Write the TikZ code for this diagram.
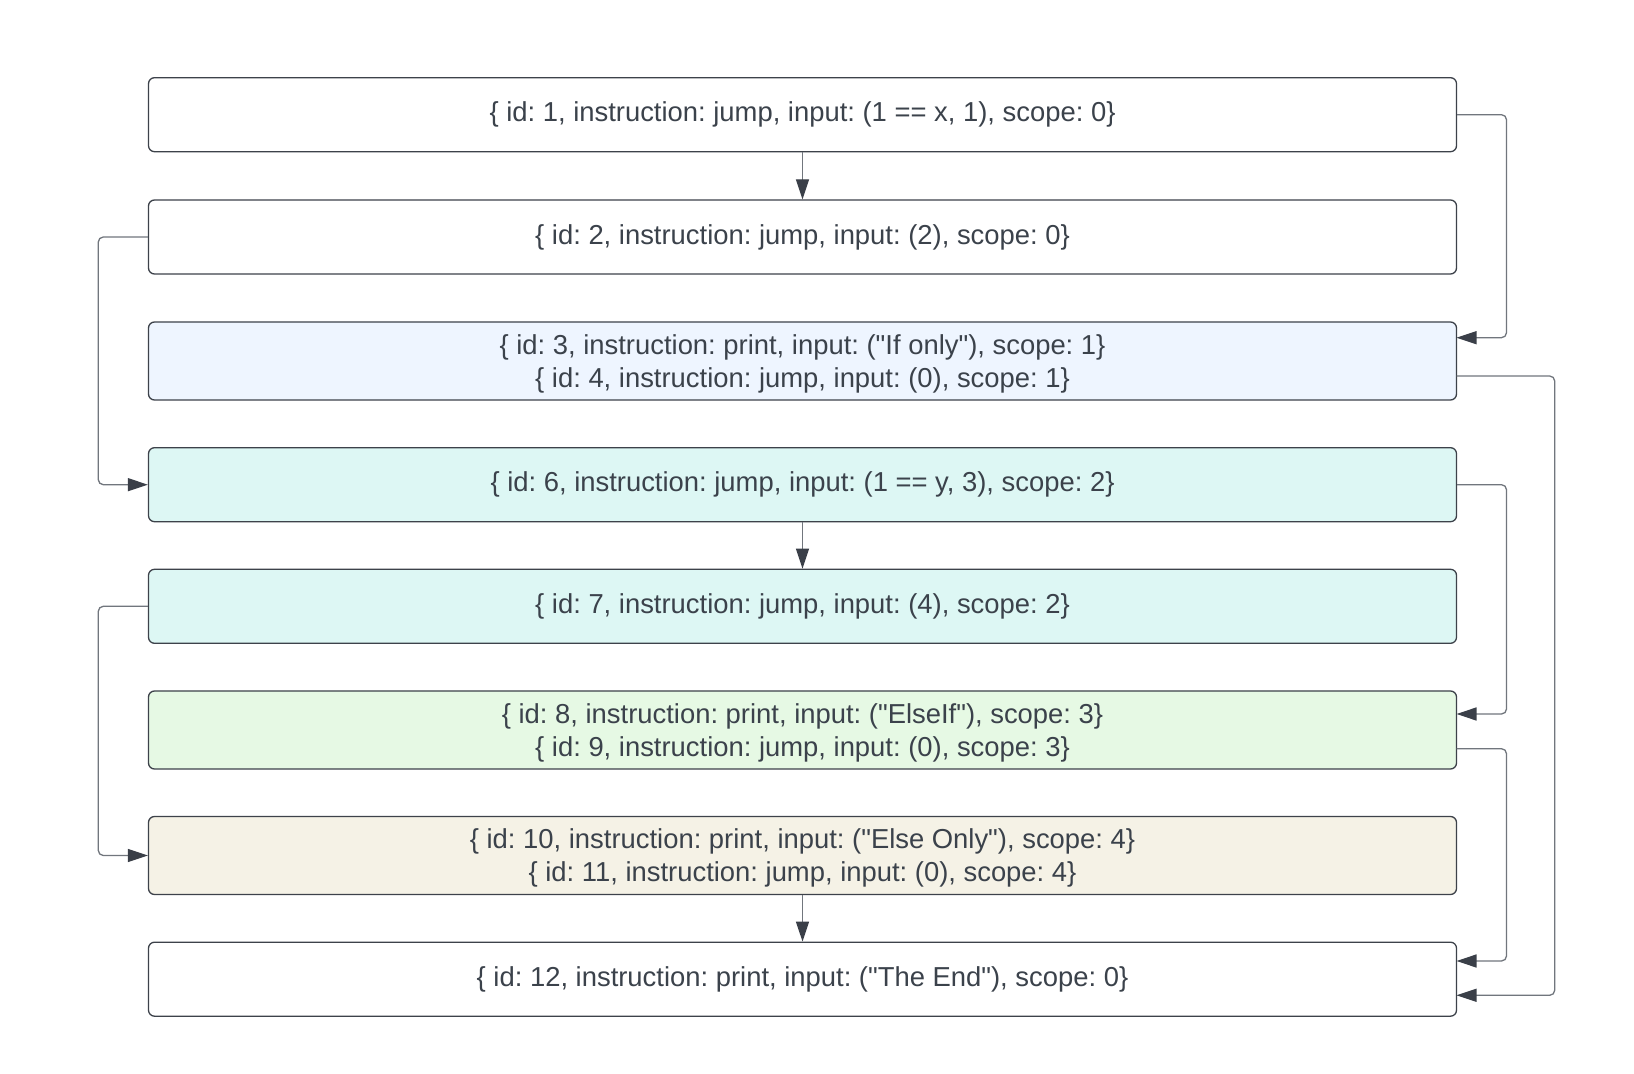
\documentclass[tikz,border=0pt]{standalone}
\usepackage{fontspec}
\setmainfont{Liberation Sans}[Ligatures=TeXOff]
\usetikzlibrary{arrows.meta,calc}
\definecolor{txt}{HTML}{3B424B}
\definecolor{bord}{HTML}{3D424A}
\definecolor{wire}{HTML}{71767D}
\definecolor{tipc}{HTML}{3A3F48}
\definecolor{fblue}{HTML}{EEF5FF}
\definecolor{fcyan}{HTML}{DDF7F4}
\definecolor{fgreen}{HTML}{E6F9E4}
\definecolor{fbeige}{HTML}{F5F2E6}
\newcommand{\dq}{"}
\newcommand{\toplift}{\rule{0pt}{12.6pt}}
\begin{document}
\frenchspacing
\begin{tikzpicture}[x=0.5pt,y=-0.5pt,
  blk/.style={draw=bord, line width=0.65pt, rounded corners=3pt, minimum width=654pt,
    inner sep=0pt, align=center, text=txt, font=\fontsize{13.7}{16.3}\selectfont\frenchspacing},
  blkone/.style={blk, minimum height=37pt},
  blktwo/.style={blk, minimum height=39pt},
  conn/.style={draw=wire, line width=0.65pt, rounded corners=2.5pt,
    -{Triangle[length=10pt,width=6.5pt,color=tipc]}},
]
\fill[white] (0,0) rectangle (1634,1074);
\useasboundingbox (0,0) rectangle (1634,1074);

\node[blkone, fill=white] (b1) at (802.5,114.7) {\{ id: 1, instruction: jump, input: (1 == x, 1), scope: 0\}};
\node[blkone, fill=white] (b2) at (802.5,237) {\{ id: 2, instruction: jump, input: (2), scope: 0\}};
\node[blktwo, fill=fblue] (b3) at (802.5,361) {\toplift\{ id: 3, instruction: print, input: (\dq If only\dq), scope: 1\}\\\{ id: 4, instruction: jump, input: (0), scope: 1\}};
\node[blkone, fill=fcyan] (b4) at (802.5,484.7) {\{ id: 6, instruction: jump, input: (1 == y, 3), scope: 2\}};
\node[blkone, fill=fcyan] (b5) at (802.5,606.3) {\{ id: 7, instruction: jump, input: (4), scope: 2\}};
\node[blktwo, fill=fgreen] (b6) at (802.5,730) {\toplift\{ id: 8, instruction: print, input: (\dq ElseIf\dq), scope: 3\}\\\{ id: 9, instruction: jump, input: (0), scope: 3\}};
\node[blktwo, fill=fbeige] (b7) at (802.5,855.5) {\toplift\{ id: 10, instruction: print, input: (\dq Else Only\dq), scope: 4\}\\\{ id: 11, instruction: jump, input: (0), scope: 4\}};
\node[blkone, fill=white] (b8) at (802.5,979.2) {\{ id: 12, instruction: print, input: (\dq The End\dq), scope: 0\}};

% routing columns
\coordinate (rin) at (1506.5,0);
\coordinate (rout) at (1554.7,0);
\coordinate (lcol) at (98.3,0);
% attachment points
\coordinate (b3in) at (1456.5,337.7);
\coordinate (b3out) at (1456.5,376);
\coordinate (b6in) at (1456.5,714);
\coordinate (b6out) at (1456.5,748.7);
\coordinate (b8ina) at (1456.5,961);
\coordinate (b8inb) at (1456.5,995.3);

\draw[conn] (b1) -- (b2);
\draw[conn] (b4) -- (b5);
\draw[conn] (b7) -- (b8);

\draw[conn] (b1.east) -| (rin |- b3in) -- (b3in);
\draw[conn] (b2.west) -| (lcol |- b4.west) -- (b4.west);
\draw[conn] (b3out) -| (rout |- b8inb) -- (b8inb);
\draw[conn] (b4.east) -| (rin |- b6in) -- (b6in);
\draw[conn] (b5.west) -| (lcol |- b7.west) -- (b7.west);
\draw[conn] (b6out) -| (rin |- b8ina) -- (b8ina);
\end{tikzpicture}
\end{document}
